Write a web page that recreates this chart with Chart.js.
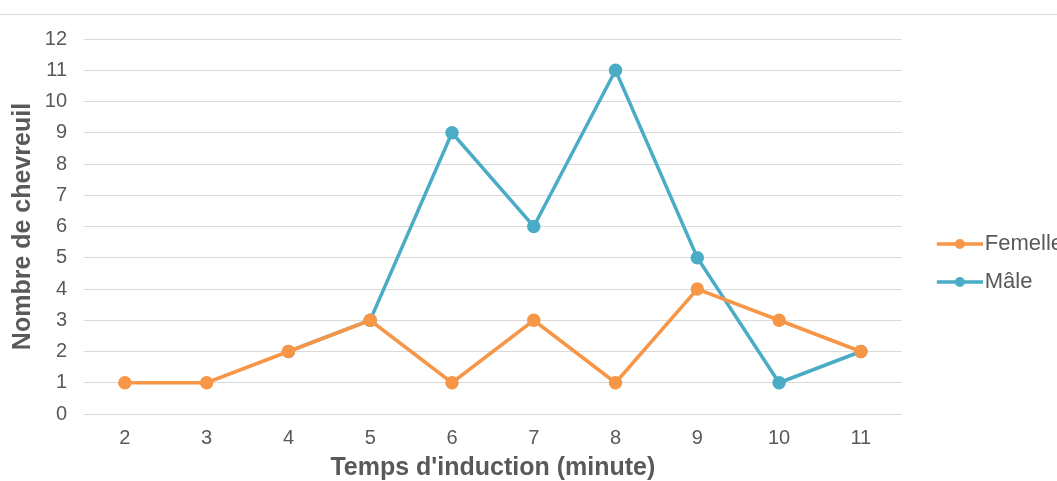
<!DOCTYPE html>
<html>
<head>
<meta charset="utf-8">
<script src="https://cdn.jsdelivr.net/npm/chart.js@4.4.1/dist/chart.umd.min.js"></script>
<style>
  html, body { margin: 0; padding: 0; background: #fff; overflow: hidden; }
  #wrap { position: relative; width: 1057px; height: 481px; overflow: hidden; }
  #topline { position: absolute; left: 0; top: 14px; width: 1057px; height: 0; border-top: 1px solid #d9d9d9; z-index: 2; }
  canvas { position: absolute; left: 0; top: 0; }
</style>
</head>
<body>
<div id="wrap">
  <div id="topline"></div>
  <canvas id="chartInduction" width="1073" height="481"></canvas>
</div>
<script>
// donnees
const temps = ['2', '3', '4', '5', '6', '7', '8', '9', '10', '11'];
const femelle = [1, 1, 2, 3, 1, 3, 1, 4, 3, 2];
const male = [null, null, 2, 3, 9, 6, 11, 5, 1, 2];

const orange = '#f79646';
const bleu = '#4bacc6';
const grisTexte = '#595959';
const police = "'Liberation Sans', Arial, sans-serif";

// icone ligne + point pour la legende (partie gauche transparente)
function legendIcon(color) {
  const c = document.createElement('canvas');
  c.width = 74; c.height = 12;
  const g = c.getContext('2d');
  g.strokeStyle = color;
  g.lineWidth = 3.5;
  g.beginPath(); g.moveTo(28, 6); g.lineTo(74, 6); g.stroke();
  g.fillStyle = color;
  g.beginPath(); g.arc(51, 6, 5, 0, Math.PI * 2); g.fill();
  return c;
}

const ctx = document.getElementById('chartInduction');
new Chart(ctx, {
  type: 'line',
  data: {
    labels: temps,
    datasets: [
      {
        label: 'Femelle',
        data: femelle,
        borderColor: orange,
        backgroundColor: orange,
        borderWidth: 3.5,
        pointRadius: 5,
        pointHoverRadius: 5,
        tension: 0
      },
      {
        label: 'Mâle',
        data: male,
        borderColor: bleu,
        backgroundColor: bleu,
        borderWidth: 3.5,
        pointRadius: 5,
        pointHoverRadius: 5,
        tension: 0
      }
    ]
  },
  options: {
    responsive: false,
    animation: false,
    layout: { padding: { top: 39, bottom: 0, left: 8, right: 0 } },
    plugins: {
      tooltip: { enabled: false },
      legend: {
        position: 'right',
        align: 'center',
        title: { display: true, text: ' ', font: { size: 1, lineHeight: 1 }, padding: 2.5 },
        labels: {
          color: grisTexte,
          font: { size: 22, family: police },
          usePointStyle: true,
          pointStyleWidth: 56,
          boxHeight: 12,
          padding: 16,
          generateLabels: chart => chart.data.datasets.map((ds, i) => ({
            text: ds.label,
            fillStyle: ds.borderColor,
            strokeStyle: ds.borderColor,
            fontColor: grisTexte,
            pointStyle: legendIcon(ds.borderColor),
            datasetIndex: i,
            hidden: false
          }))
        }
      }
    },
    scales: {
      x: {
        offset: true,
        grid: { display: false },
        border: { display: false },
        afterFit: scale => { scale.height = 67; },
        ticks: { color: grisTexte, font: { size: 20, family: police }, padding: 4 },
        title: {
          display: true,
          text: "Temps d'induction (minute)",
          color: grisTexte,
          font: { size: 25, weight: 'bold', family: police, lineHeight: 1 },
          padding: { top: 0, bottom: 0 }
        }
      },
      y: {
        min: 0,
        max: 12,
        afterFit: scale => { scale.width = 76; },
        ticks: { stepSize: 1, color: grisTexte, font: { size: 20, family: police }, padding: 17 },
        grid: { color: '#d9d9d9', lineWidth: 1, drawTicks: false },
        border: { display: false },
        title: {
          display: true,
          text: 'Nombre de chevreuil',
          color: grisTexte,
          font: { size: 25, weight: 'bold', family: police },
          padding: { top: 0, bottom: 0 }
        }
      }
    }
  }
});
</script>
</body>
</html>
